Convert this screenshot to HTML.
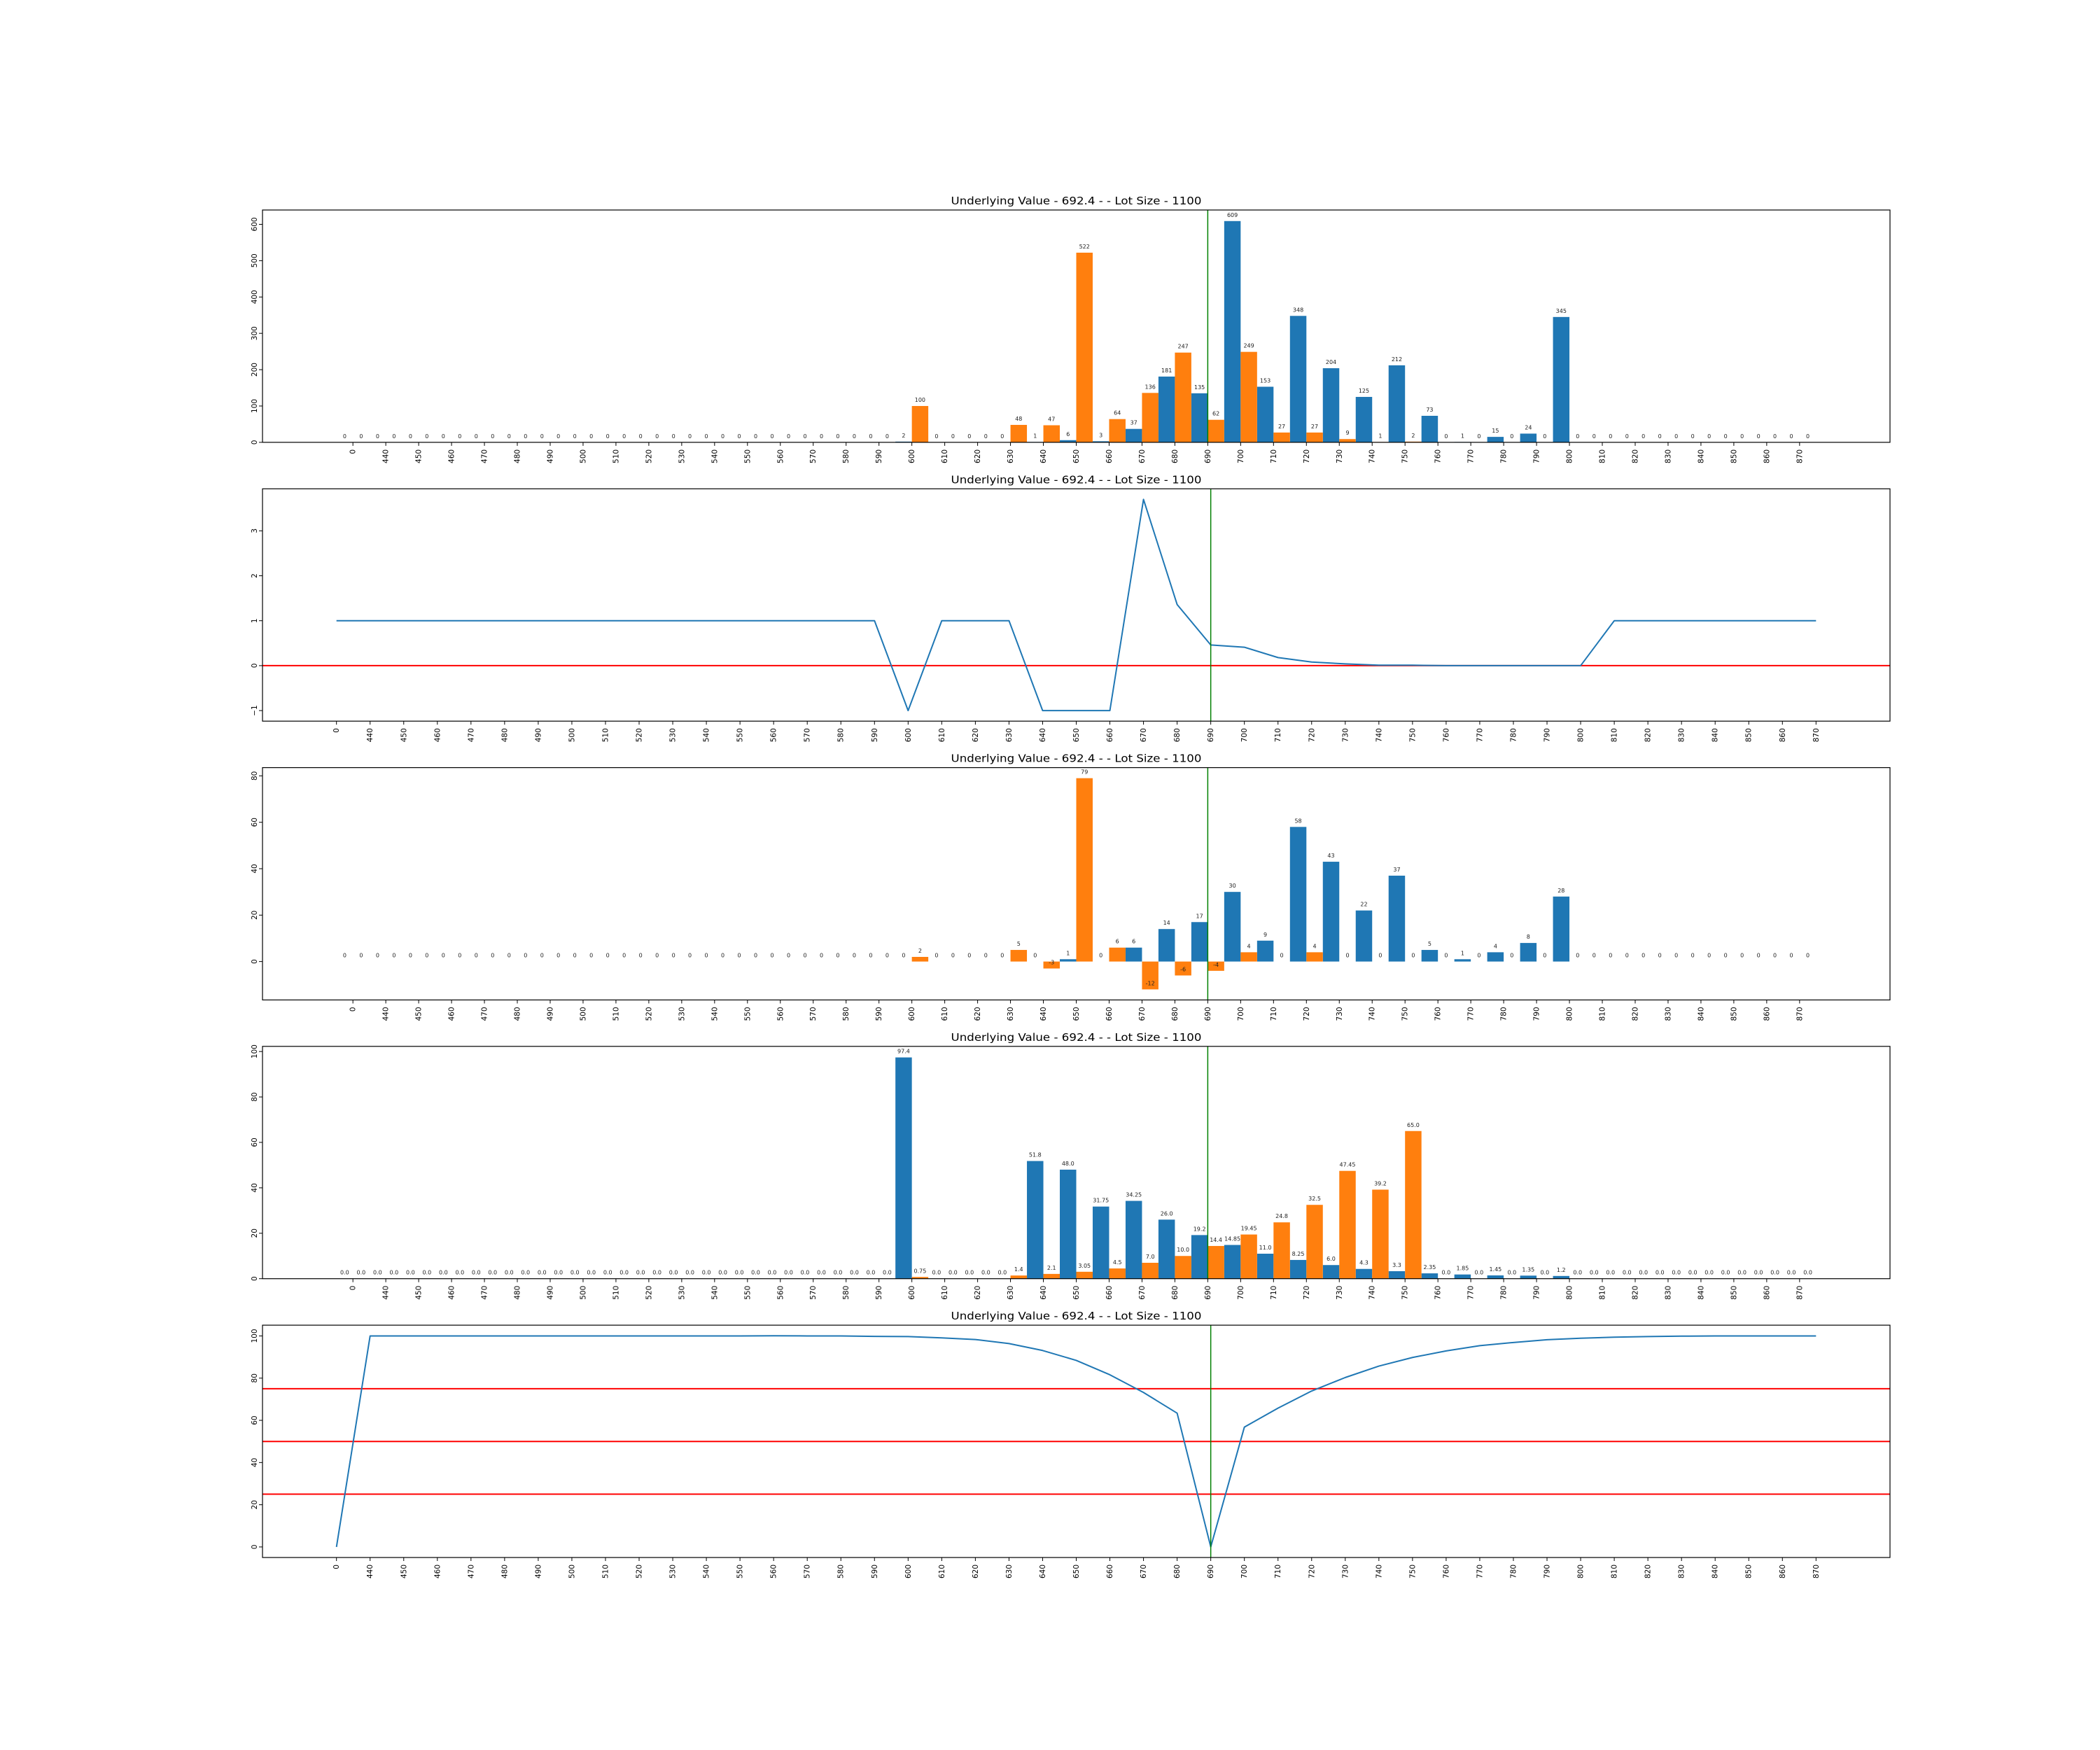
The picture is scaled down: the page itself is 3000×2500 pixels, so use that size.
<!DOCTYPE html>
<html><head><meta charset="utf-8"><style>
html,body{margin:0;padding:0;background:#fff;}
svg{display:block;font-family:"DejaVu Sans","Liberation Sans",sans-serif;}
</style></head>
<body>
<svg id="fig" width="3000" height="2500" viewBox="0 0 3000 2500" xmlns="http://www.w3.org/2000/svg">
<rect x="0" y="0" width="3000" height="2500" fill="#fff"/>
</svg>
<script>
const categories = ["0","440","450","460","470","480","490","500","510","520","530","540","550","560","570","580","590","600","610","620","630","640","650","660","670","680","690","700","710","720","730","740","750","760","770","780","790","800","810","820","830","840","850","860","870"];
const titleText = "Underlying Value - 692.4 - - Lot Size - 1100";
const spotIndex = 26;
// panel 1: open interest
const oiBlue = [0,0,0,0,0,0,0,0,0,0,0,0,0,0,0,0,0,2,0,0,0,1,6,3,37,181,135,609,153,348,204,125,212,73,1,15,24,345,0,0,0,0,0,0,0];
const oiOrange = [0,0,0,0,0,0,0,0,0,0,0,0,0,0,0,0,0,100,0,0,48,47,522,64,136,247,62,249,27,27,9,1,2,0,0,0,0,0,0,0,0,0,0,0,0];
const oiTicks = [0,100,200,300,400,500,600];
// panel 2: ratio line
const ratioLine = [1,1,1,1,1,1,1,1,1,1,1,1,1,1,1,1,1,-1,1,1,1,-1,-1,-1,3.7,1.36,0.46,0.41,0.18,0.08,0.04,0.01,0.01,0,0,0,0,0,1,1,1,1,1,1,1];
const ratioTicks = [-1,0,1,2,3];
const ratioRefs = [0];
// panel 3: change in OI
const chgBlue = [0,0,0,0,0,0,0,0,0,0,0,0,0,0,0,0,0,0,0,0,0,0,1,0,6,14,17,30,9,58,43,22,37,5,1,4,8,28,0,0,0,0,0,0,0];
const chgOrange = [0,0,0,0,0,0,0,0,0,0,0,0,0,0,0,0,0,2,0,0,5,-3,79,6,-12,-6,-4,4,0,4,0,0,0,0,0,0,0,0,0,0,0,0,0,0,0];
const chgTicks = [0,20,40,60,80];
// panel 4: prices
const prBlue = [0,0,0,0,0,0,0,0,0,0,0,0,0,0,0,0,0,97.4,0,0,0,51.8,48.0,31.75,34.25,26.0,19.2,14.85,11.0,8.25,6.0,4.3,3.3,2.35,1.85,1.45,1.35,1.2,0,0,0,0,0,0,0];
const prOrange = [0,0,0,0,0,0,0,0,0,0,0,0,0,0,0,0,0,0.75,0,0,1.4,2.1,3.05,4.5,7.0,10.0,14.4,19.45,24.8,32.5,47.45,39.2,65.0,0,0,0,0,0,0,0,0,0,0,0,0];
const prTicks = [0,20,40,60,80,100];
// panel 5: percentage line
const pctLine = [0,100,100,100,100,100,100,100,100,100,100,100,100,100.1,100,100,99.8,99.7,99.1,98.3,96.4,93.1,88.4,81.6,73.2,63.4,0,56.8,65.8,73.9,80.3,85.7,89.8,92.9,95.4,96.9,98.2,98.9,99.4,99.7,99.9,100,100,100,100];
const pctTicks = [0,20,40,60,80,100];
const pctRefs = [25,50,75];

const NS = "http://www.w3.org/2000/svg";
const fig = document.getElementById('fig');
const AX_L = 375, AX_R = 2700;
const tops = [300, 698.3, 1096.6, 1494.8, 1893.1];
const AX_H = 331.9;
const BLUE = "#1f77b4", ORANGE = "#ff7f0e";

function mk(tag, attrs, parent) {
  const e = document.createElementNS(NS, tag);
  for (const k in attrs) e.setAttribute(k, attrs[k]);
  (parent || fig).appendChild(e);
  return e;
}
function fmtInt(v){ return String(v); }
function fmtFloat(v){ return Number.isInteger(v) ? v.toFixed(1) : String(v); }

function drawPanel(p, idx) {
  const top = tops[idx], bot = top + AX_H;
  const g = mk('g', {});
  
  
  const n = categories.length;
  let xmin, xmax;
  if (p.type === 'bar') { xmin = -0.5 - 0.05 * n; xmax = n - 0.5 + 0.05 * n; }
  else { xmin = -0.05 * (n - 1); xmax = (n - 1) * 1.05; }
  const all = p.series.flat();
  let dmin = Math.min(...all), dmax = Math.max(...all);
  let ymin, ymax;
  if (p.type === 'bar') {
    const lo = Math.min(0, dmin), hi = Math.max(0, dmax), r = hi - lo;
    ymin = lo < 0 ? lo - 0.05 * r : 0;
    ymax = hi + 0.05 * r;
  } else {
    const r = dmax - dmin; ymin = dmin - 0.05 * r; ymax = dmax + 0.05 * r;
  }
  const sx = v => AX_L + (v - xmin) / (xmax - xmin) * (AX_R - AX_L);
  const sy = v => bot - (v - ymin) / (ymax - ymin) * AX_H;

  // title
  const t = mk('text', {x: (AX_L + AX_R) / 2, y: top - 8, 'text-anchor': 'middle', 'font-size': 15, fill: '#000', textLength: 358, lengthAdjust: 'spacingAndGlyphs'}, g);
  t.textContent = titleText;
  
  

  const clipId = 'clip' + idx;
  const cp = mk('clipPath', {id: clipId}, g);
  mk('rect', {x: AX_L, y: top, width: AX_R - AX_L, height: AX_H}, cp);
  const plot = mk('g', {'clip-path': 'url(#' + clipId + ')'}, g);

  if (p.type === 'bar') {
    const colors = [BLUE, ORANGE], offs = [-0.25, 0.25];
    p.series.forEach((s, si) => {
      s.forEach((v, i) => {
        const x0 = sx(i + offs[si] - 0.25), x1 = sx(i + offs[si] + 0.25);
        const y0 = sy(Math.max(0, v)), y1 = sy(Math.min(0, v));
        const r = mk('rect', {x: x0, y: y0, width: x1 - x0, height: Math.max(0, y1 - y0), fill: colors[si]}, plot);
        
        
        const lb = mk('text', {x: (x0 + x1) / 2, y: sy(v) - 6, 'text-anchor': 'middle', 'font-size': 8, fill: '#222'}, g);
        lb.textContent = p.fmt(v);
        
        
      });
    });
  } else {
    (p.refs || []).forEach(rv => {
      const l = mk('line', {x1: AX_L, x2: AX_R, y1: sy(rv), y2: sy(rv), stroke: '#ff0000', 'stroke-width': 2}, plot);
      
      
    });
    const pts = p.series[0].map((v, i) => sx(i).toFixed(2) + ',' + sy(v).toFixed(2)).join(' ');
    const pl = mk('polyline', {points: pts, fill: 'none', stroke: BLUE, 'stroke-width': 2, 'stroke-linejoin': 'round'}, plot);
    
    
  }
  const vl = mk('line', {x1: sx(spotIndex), x2: sx(spotIndex), y1: top, y2: bot, stroke: '#008000', 'stroke-width': 1.5}, plot);
  
  

  // frame
  const fr = mk('rect', {x: AX_L, y: top, width: AX_R - AX_L, height: AX_H, fill: 'none', stroke: '#000', 'stroke-width': 1.2}, g);
  
  

  // x ticks
  categories.forEach((c, i) => {
    const x = sx(i);
    mk('line', {x1: x, x2: x, y1: bot, y2: bot + 5, stroke: '#000', 'stroke-width': 1}, g);
    const tl = mk('text', {transform: 'translate(' + (x + 3.5) + ',' + (bot + 10) + ') rotate(-90)', 'text-anchor': 'end', 'font-size': 10.5, fill: '#000'}, g);
    tl.textContent = c;
    
    
  });
  // y ticks
  p.ticks.forEach(tv => {
    const y = sy(tv);
    mk('line', {x1: AX_L - 5, x2: AX_L, y1: y, y2: y, stroke: '#000', 'stroke-width': 1}, g);
    const tl = mk('text', {transform: 'translate(' + (AX_L - 8) + ',' + y + ') rotate(-90)', 'text-anchor': 'middle', 'font-size': 10.5, fill: '#000'}, g);
    tl.textContent = tv < 0 ? '\u2212' + Math.abs(tv) : String(tv);
    
    
  });
}

drawPanel({type: 'bar', series: [oiBlue, oiOrange], ticks: oiTicks, fmt: fmtInt}, 0);
drawPanel({type: 'line', series: [ratioLine], ticks: ratioTicks, refs: ratioRefs}, 1);
drawPanel({type: 'bar', series: [chgBlue, chgOrange], ticks: chgTicks, fmt: fmtInt}, 2);
drawPanel({type: 'bar', series: [prBlue, prOrange], ticks: prTicks, fmt: fmtFloat}, 3);
drawPanel({type: 'line', series: [pctLine], ticks: pctTicks, refs: pctRefs}, 4);
</script>
</body></html>
